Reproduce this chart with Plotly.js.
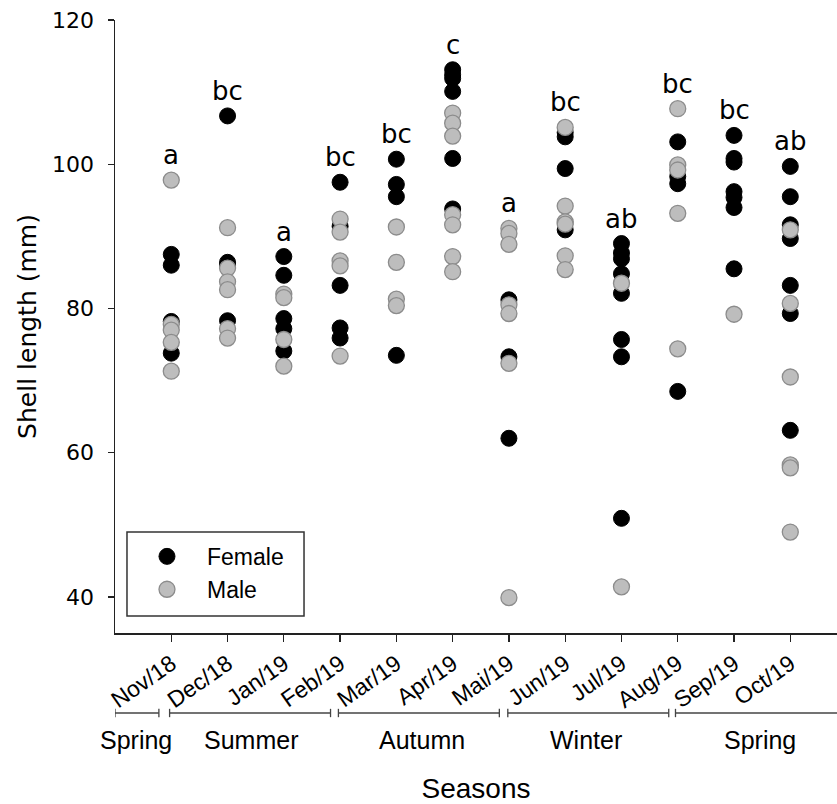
<!DOCTYPE html>
<html>
<head>
<meta charset="utf-8">
<script src="https://cdn.plot.ly/plotly-3.0.1.min.js"></script>
<style>
  html, body { margin: 0; padding: 0; background: #fff; }
  #chart { width: 837px; height: 804px; }
</style>
</head>
<body>
<div id="chart"></div>
<script>
// ---- data ----
const months = ['Nov/18','Dec/18','Jan/19','Feb/19','Mar/19','Apr/19','Mai/19','Jun/19','Jul/19','Aug/19','Sep/19','Oct/19'];
const letters = ['a','bc','a','bc','bc','c','a','bc','ab','bc','bc','ab'];

// Shell length (mm) per month, females
const female = [
  [87.5, 86.0, 78.2, 73.8],
  [106.7, 86.4, 86.0, 78.3],
  [87.2, 84.6, 78.6, 77.2, 74.1],
  [97.5, 91.4, 83.2, 77.3, 75.9],
  [100.7, 97.2, 95.5, 73.5],
  [113.1, 112.4, 111.9, 110.1, 100.8, 93.8],
  [81.2, 73.3, 62.0],
  [104.4, 103.8, 99.4, 90.9],
  [89.0, 87.7, 86.9, 84.8, 82.1, 75.7, 73.3, 50.9],
  [103.1, 98.3, 97.3, 68.5],
  [104.0, 100.8, 100.3, 96.2, 95.4, 94.0, 85.5],
  [99.7, 95.5, 91.6, 89.7, 83.2, 79.3, 63.1]
];
// Shell length (mm) per month, males
const male = [
  [97.8, 77.8, 77.0, 75.3, 71.3],
  [91.2, 85.6, 83.7, 82.6, 77.2, 75.9],
  [82.0, 81.5, 75.7, 72.0],
  [92.4, 90.6, 86.6, 85.9, 73.4],
  [91.3, 86.4, 81.3, 80.4],
  [107.1, 105.7, 103.9, 93.0, 91.6, 87.2, 85.1],
  [91.1, 90.4, 88.9, 80.5, 79.3, 72.4, 39.9],
  [105.1, 94.2, 92.0, 91.7, 87.3, 85.4],
  [83.5, 41.4],
  [107.7, 99.9, 99.2, 93.2, 74.4],
  [79.2],
  [90.9, 80.7, 70.5, 58.3, 57.9, 49.0]
];

// seasons spanning the month categories (category index units)
const seasonNames = ['Spring','Summer','Autumn','Winter','Spring'];
const seasonStart = [-1.0, -0.03, 2.97, 5.98, 8.96];
const seasonEnd   = [-0.22, 2.83, 5.83, 8.84, 12.0];
const seasonLabelX = [-0.63, 1.42, 4.46, 7.37, 10.47];

// ---- build traces ----
function flatten(groups) {
  const xs = [], ys = [];
  groups.forEach((vals, i) => vals.forEach(v => { xs.push(months[i]); ys.push(v); }));
  return {xs, ys};
}
const f = flatten(female);
const m = flatten(male);

const traces = [
  {
    type: 'scatter', mode: 'markers', name: 'Female',
    x: f.xs, y: f.ys,
    marker: {size: 16, color: '#000000', line: {color: '#000000', width: 1}},
    cliponaxis: false
  },
  {
    type: 'scatter', mode: 'markers', name: 'Male',
    x: m.xs, y: m.ys,
    marker: {size: 16, color: '#bdbdbd', line: {color: '#8c8c8c', width: 1.3}},
    cliponaxis: false
  }
];

// ---- annotations ----
const annotations = [];
months.forEach((mo, i) => {
  const top = Math.max(...female[i], ...male[i]);
  annotations.push({
    x: mo, y: top, xref: 'x', yref: 'y', text: letters[i], showarrow: false,
    yanchor: 'bottom', yshift: 8,
    font: {family: 'DejaVu Sans, Verdana, sans-serif', size: 26, color: '#000'}
  });
});

const bracketY = -0.1305;
const tickH = 0.0068;
const shapes = [];
seasonNames.forEach((s, i) => {
  const lineStyle = {color: '#444', width: 1.3};
  shapes.push({type: 'line', xref: 'x', yref: 'paper', x0: seasonStart[i], x1: seasonEnd[i], y0: bracketY, y1: bracketY, line: lineStyle});
  shapes.push({type: 'line', xref: 'x', yref: 'paper', x0: seasonStart[i], x1: seasonStart[i], y0: bracketY - tickH, y1: bracketY + tickH, line: lineStyle});
  shapes.push({type: 'line', xref: 'x', yref: 'paper', x0: seasonEnd[i], x1: seasonEnd[i], y0: bracketY - tickH, y1: bracketY + tickH, line: lineStyle});
  annotations.push({
    x: seasonLabelX[i], y: -0.1746, xref: 'x', yref: 'paper', text: s, showarrow: false,
    yanchor: 'middle', xanchor: 'center',
    font: {family: 'Liberation Sans, Arial, sans-serif', size: 25, color: '#000'}
  });
});

// legend frame
shapes.push({
  type: 'rect', xref: 'paper', yref: 'paper',
  x0: 0.0166, x1: 0.2618, y0: 0.0277, y1: 0.1648,
  line: {color: '#333', width: 1.5}, fillcolor: 'rgba(0,0,0,0)'
});

const layout = {
  width: 837, height: 804,
  margin: {l: 115, r: 0, t: 20, b: 171},
  paper_bgcolor: '#fff', plot_bgcolor: '#fff',
  showlegend: true,
  legend: {
    x: 0.0166, y: 0.160, xanchor: 'left', yanchor: 'top',
    bgcolor: 'rgba(0,0,0,0)', borderwidth: 0,
    itemwidth: 70,
    font: {family: 'Liberation Sans, Arial, sans-serif', size: 23, color: '#000'}
  },
  xaxis: {
    type: 'category',
    categoryorder: 'array', categoryarray: months,
    range: [-1, 11.83],
    showline: true, linecolor: '#222', linewidth: 1.5,
    ticks: 'outside', ticklen: 7, tickcolor: '#222', tickwidth: 1.3,
    tickangle: -35,
    tickfont: {family: 'Liberation Sans, Arial, sans-serif', size: 23, color: '#000'},
    showgrid: false, zeroline: false,
    automargin: false,
    title: {text: 'Seasons', standoff: 72, font: {family: 'Liberation Sans, Arial, sans-serif', size: 28, color: '#000'}}
  },
  yaxis: {
    range: [35, 120],
    tickvals: [40, 60, 80, 100, 120],
    showline: true, linecolor: '#222', linewidth: 1.5,
    ticks: 'outside', ticklen: 6, tickcolor: '#222', tickwidth: 1.3,
    ticklabelstandoff: 9,
    tickfont: {family: 'DejaVu Sans, Verdana, sans-serif', size: 22, color: '#000'},
    showgrid: false, zeroline: false,
    automargin: false,
    title: {text: 'Shell length (mm)', standoff: 8, font: {family: 'DejaVu Sans, Verdana, sans-serif', size: 25, color: '#000'}}
  },
  annotations: annotations,
  shapes: shapes
};

Plotly.newPlot('chart', traces, layout, {displayModeBar: false, staticPlot: true});
</script>
</body>
</html>
